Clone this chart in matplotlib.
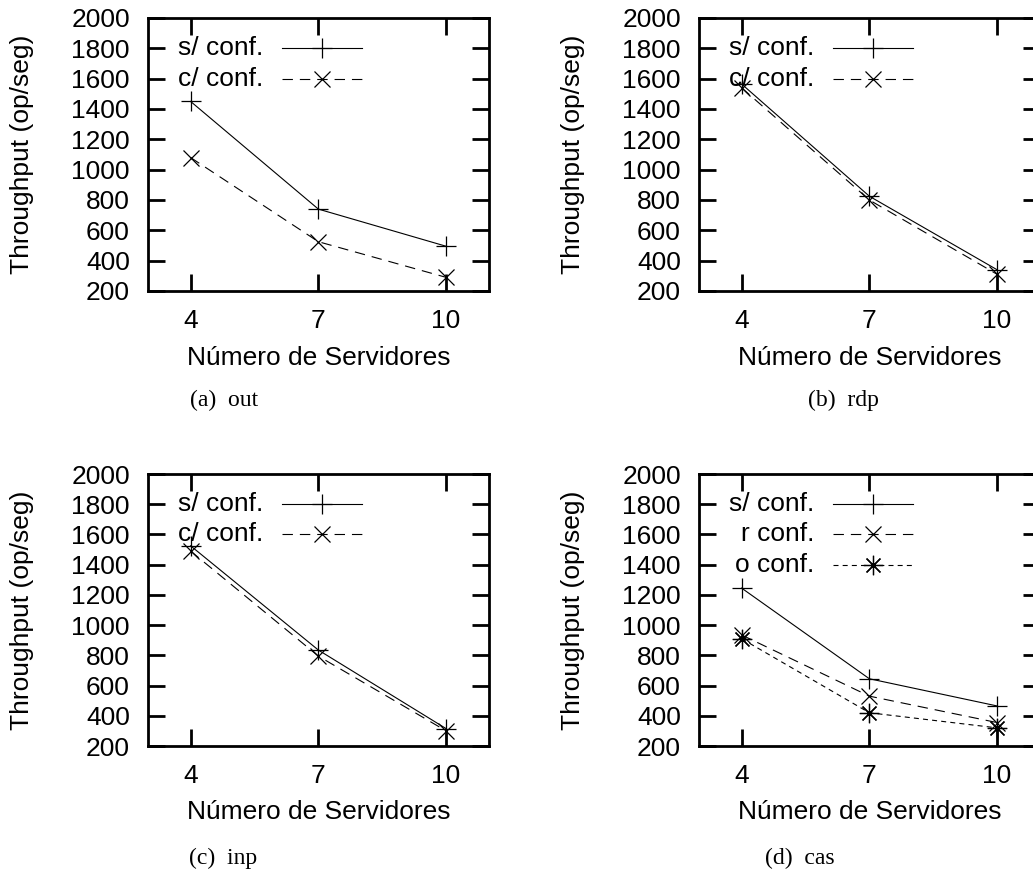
import matplotlib
matplotlib.use('Agg')
import matplotlib.pyplot as plt

plt.rcParams['font.family'] = ['Liberation Sans', 'DejaVu Sans']
plt.rcParams['lines.scale_dashes'] = False

# dados
servers = [4, 7, 10]
y_ticks = [200, 400, 600, 800, 1000, 1200, 1400, 1600, 1800, 2000]

out_sem = [1450, 740, 495]
out_com = [1080, 525, 290]
rdp_sem = [1565, 825, 340]
rdp_com = [1540, 800, 310]
inp_sem = [1525, 835, 315]
inp_com = [1490, 795, 300]
cas_sem = [1245, 645, 465]
cas_r = [935, 530, 355]
cas_o = [910, 420, 320]

captions = ['(a)  out', '(b)  rdp', '(c)  inp', '(d)  cas']

STYLE = {
    's/ conf.': dict(ls='-', marker='+', ms=14, dashes=(None, None)),
    'c/ conf.': dict(ls='--', marker='x', ms=12, dashes=(7.5, 5)),
    'r conf.': dict(ls='--', marker='x', ms=12, dashes=(7.5, 5)),
    'o conf.': dict(ls='--', marker=(8, 2, 0), ms=14, dashes=(3.6, 3)),
}

FS = 19
W, H = 1033, 869
fig = plt.figure(figsize=(W / 100, H / 100), dpi=100)


def panel(rect, series, caption, cap_xy):
    ax = fig.add_axes(rect)
    for i, (label, vals) in enumerate(series):
        st = dict(STYLE[label])
        dashes = st.pop('dashes')
        kw = dict(color='black', lw=0.8, mew=0.9, **st)
        if dashes[0] is not None:
            kw['dashes'] = dashes
        ax.plot(servers, vals, **kw)
        # legenda estilo gnuplot
        ly = 0.889 - 0.111 * i
        ax.text(0.338, ly, label, ha='right', va='center', fontsize=FS,
                transform=ax.transAxes)
        ax.plot([0.394, 0.512, 0.629], [ly, ly, ly], transform=ax.transAxes,
                markevery=[1], clip_on=False, **kw)
    ax.set_xlim(3, 11)
    ax.set_ylim(200, 2000)
    ax.set_xticks(servers)
    ax.set_yticks(y_ticks)
    ax.tick_params(direction='in', length=12, width=2, labelsize=FS,
                   top=True, right=True)
    ax.tick_params(axis='y', pad=13)
    ax.tick_params(axis='x', pad=13)
    for s in ax.spines.values():
        s.set_linewidth(2)
    ax.set_xlabel('Número de Servidores', fontsize=FS)
    ax.set_ylabel('Throughput (op/seg)', fontsize=FS)
    ax.yaxis.set_label_coords(-0.335, 0.5)
    ax.xaxis.set_label_coords(0.5, -0.2)
    fig.text(cap_xy[0] / W, 1 - cap_xy[1] / H, caption, ha='center', va='center',
             fontsize=17, family='Liberation Serif')
    return ax


ax_w = 340.7 / W
top_b, top_h = 1 - 291 / H, 273 / H
bot_b, bot_h = 1 - 746 / H, 272 / H
left1, left2 = 148 / W, 699 / W

panel([left1, top_b, ax_w, top_h],
      [('s/ conf.', out_sem), ('c/ conf.', out_com)], captions[0], (224, 400))
panel([left2, top_b, ax_w, top_h],
      [('s/ conf.', rdp_sem), ('c/ conf.', rdp_com)], captions[1], (843, 400))
panel([left1, bot_b, ax_w, bot_h],
      [('s/ conf.', inp_sem), ('c/ conf.', inp_com)], captions[2], (223, 858))
panel([left2, bot_b, ax_w, bot_h],
      [('s/ conf.', cas_sem), ('r conf.', cas_r), ('o conf.', cas_o)],
      captions[3], (800, 858))

fig.savefig('out.png', dpi=100)
